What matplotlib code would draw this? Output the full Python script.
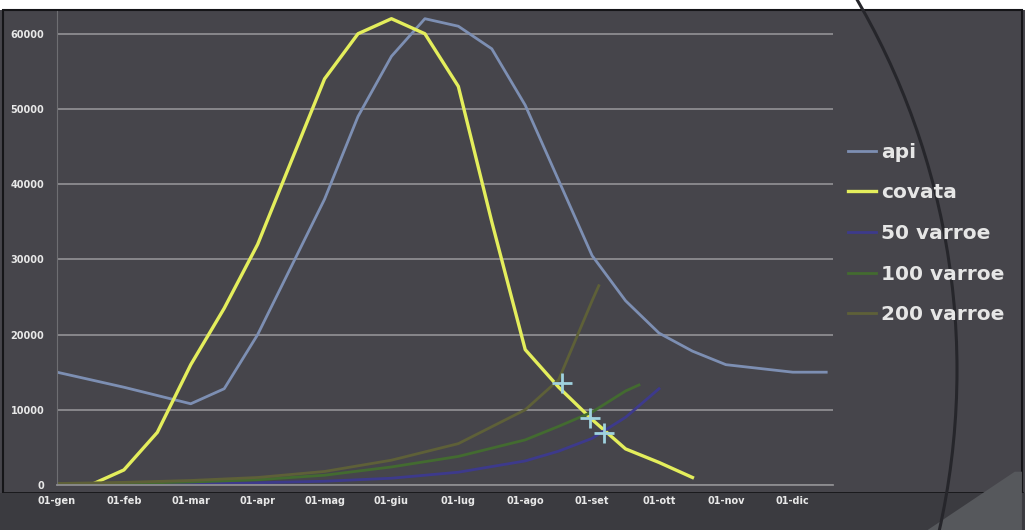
import matplotlib.pyplot as plt
from matplotlib.patches import Rectangle, Circle, Polygon

# x positions are months from 01-gen (0 = 01-gen, 1 = 01-feb, ...)
api_x = [0, 1, 2, 2.5, 3, 3.5, 4, 4.5, 5, 5.5, 6, 6.5, 7, 7.5, 8, 8.5, 9, 9.5, 10, 10.5, 11, 11.5]
api_y = [15000, 13000, 10800, 12800, 20000, 29000, 38000, 49000, 57000, 62000, 61000, 58000,
         50500, 40500, 30500, 24500, 20200, 17800, 16000, 15500, 15000, 15000]

covata_x = [0.5, 1, 1.5, 2, 2.5, 3, 3.5, 4, 4.5, 5, 5.5, 6, 6.5, 7, 7.5, 8, 8.5, 9, 9.5]
covata_y = [0, 2000, 7000, 16000, 23500, 32000, 43000, 54000, 60000, 62000, 60000, 53000,
            35000, 18000, 13000, 8700, 4800, 3000, 1000]

v50_x = [0, 1, 2, 3, 4, 5, 6, 7, 7.5, 8, 8.5, 9]
v50_y = [50, 100, 180, 300, 500, 900, 1700, 3200, 4500, 6200, 9000, 12800]

v100_x = [0, 1, 2, 3, 4, 5, 6, 7, 7.5, 8, 8.5, 8.7]
v100_y = [100, 200, 400, 700, 1300, 2400, 3800, 6000, 7800, 9700, 12500, 13300]

v200_x = [0, 1, 2, 3, 4, 5, 6, 7, 7.5, 8, 8.1]
v200_y = [200, 350, 600, 1000, 1800, 3300, 5500, 10000, 14000, 24500, 26500]

cross_x = [7.55, 7.97, 8.18]
cross_y = [13500, 8900, 6900]

months = ['01-gen', '01-feb', '01-mar', '01-apr', '01-mag', '01-giu',
          '01-lug', '01-ago', '01-set', '01-ott', '01-nov', '01-dic']
yticks = [0, 10000, 20000, 30000, 40000, 50000, 60000]

bg = '#46454b'
fig = plt.figure(figsize=(10.25, 5.3), dpi=100, facecolor=bg)

# slide decoration: white strip on top, borders, big arc on the right
fig.patches.append(Rectangle((0, 0.981), 1, 0.019, transform=fig.transFigure,
                             facecolor='white', edgecolor='none', zorder=0))
fig.patches.append(Rectangle((0.003, 0.0), 0.994, 0.981, transform=fig.transFigure,
                             facecolor='none', edgecolor='#151518', lw=1.5, zorder=0))
fig.patches.append(Rectangle((0, 0), 1, 0.07, transform=fig.transFigure,
                             facecolor='#3b3b40', edgecolor='none', zorder=0))
fig.patches.append(Polygon([(0.905, 0.0), (0.99, 0.11), (0.997, 0.11), (0.997, 0.0)],
                           closed=True, transform=fig.transFigure,
                           facecolor='#56585c', edgecolor='none', zorder=0))
fig.add_artist(plt.Line2D([0.003, 0.997], [0.07, 0.07], color='#151518', lw=2, zorder=0))
arc = Circle((221, 530 - 370), 736, transform=None, facecolor='none',
             edgecolor='#26262b', lw=2.2, zorder=0)
fig.patches.append(arc)

ax = fig.add_axes([0.0556, 0.0849, 0.757, 0.894])
ax.set_zorder(3)
ax.patch.set_visible(False)

ax.plot(api_x, api_y, color='#7d8fb3', lw=2, label='api')
ax.plot(covata_x, covata_y, color='#e4ee5c', lw=2.4, label='covata')
ax.plot(v50_x, v50_y, color='#3d3a8c', lw=2, label='50 varroe')
ax.plot(v100_x, v100_y, color='#436b30', lw=2, label='100 varroe')
ax.plot(v200_x, v200_y, color='#5e6038', lw=2, label='200 varroe')
ax.plot(cross_x, cross_y, linestyle='none', marker='+', markersize=14,
        markeredgewidth=2, color='#9fd2df')

ax.set_xlim(0, 11.6)
ax.set_ylim(0, 63000)
ax.set_xticks(range(12))
ax.set_xticklabels(months)
ax.set_yticks(yticks)
ax.set_yticklabels([str(v) for v in yticks])
ax.tick_params(axis='y', length=0, colors='#e8e8e8', labelsize=7, pad=9)
ax.tick_params(axis='x', length=0, colors='#e8e8e8', labelsize=7, pad=8)
for lab in ax.get_xticklabels() + ax.get_yticklabels():
    lab.set_fontweight('bold')
ax.yaxis.grid(True, color='#8d8d90', lw=1.3)
ax.set_axisbelow(True)
for s in ['top', 'right']:
    ax.spines[s].set_visible(False)
ax.spines['left'].set_color('#6e6e72')
ax.spines['bottom'].set_color('#8d8d90')
ax.spines['bottom'].set_linewidth(1.3)

leg = ax.legend(loc='upper left', bbox_to_anchor=(1.019, 0.722), frameon=False,
                borderpad=0, borderaxespad=0,
                handlelength=1.4, handletextpad=0.25, labelspacing=1.07,
                prop={'size': 14.5, 'weight': 'bold'})
for t in leg.get_texts():
    t.set_color('#e6e6e6')

fig.savefig('out.png', dpi=100, facecolor=bg)
